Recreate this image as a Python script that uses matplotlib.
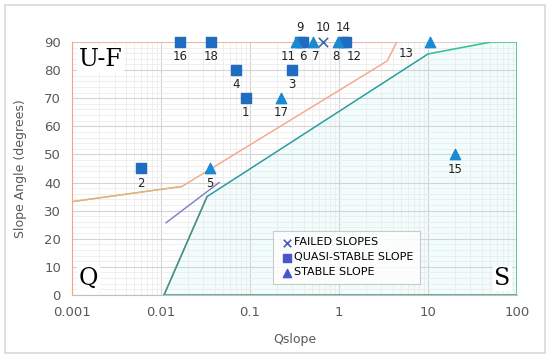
import matplotlib.pyplot as plt
from matplotlib.patches import Rectangle
from matplotlib.ticker import FixedLocator, LogLocator, NullFormatter, MultipleLocator

# data
failed_q = [0.66]
failed_a = [90]
failed_lbl = ["10"]

quasi_q = [0.089, 0.006, 0.296, 0.069, 0.39, 0.36, 1.2, 1.1, 0.0163, 0.0364]
quasi_a = [70, 45, 80, 80, 90, 90, 90, 90, 90, 90]
quasi_lbl = ["1", "2", "3", "4", "6", "9", "12", "14", "16", "18"]

stable_q = [0.0355, 0.51, 0.98, 0.33, 10.5, 20, 0.223]
stable_a = [45, 90, 90, 90, 90, 50, 70]
stable_lbl = ["5", "7", "8", "11", "13", "15", "17"]

# boundary lines
uf_q = [0.001, 0.0172, 3.47, 4.47, 0.001, 0.001]
uf_a = [33.2, 38.6, 83.2, 90, 90, 33.2]
s_low_q = [0.0108, 0.0329, 10]
s_low_a = [0, 35, 85.7]
s_top_q = [10, 52, 100, 100]
s_top_a = [85.7, 90, 90, 0]
s_base_q = [0.0108, 100]
s_base_a = [0, 0]
q_line_q = [0.0114, 0.045]
q_line_a = [25.7, 40]

fig = plt.figure(figsize=(5.5, 3.58), dpi=100)
fig.patches.append(Rectangle((0.009, 0.015), 0.982, 0.97, transform=fig.transFigure,
                             fill=False, edgecolor="#d9d9d9", linewidth=1.2))
ax = fig.add_axes([0.131, 0.176, 0.809, 0.707])

ax.set_xscale("log")
ax.set_xlim(0.001, 100)
ax.set_ylim(0, 90)

ax.fill(s_low_q + s_top_q[1:], s_low_a + s_top_a[1:], color="#f1fdfd", zorder=0.5, lw=0)

ax.plot(uf_q, uf_a, color="#f4a582", lw=1.0, zorder=2)
ax.plot(uf_q[:2], uf_a[:2], color="#d9b77a", lw=1.0, zorder=2)
ax.plot(s_low_q, s_low_a, color="#2a9d9f", lw=1.1, zorder=2)
ax.plot(s_low_q[:2], s_low_a[:2], color="#5a8f80", lw=1.0, zorder=2)
ax.plot(s_top_q, s_top_a, color="#3cc48c", lw=1.2, zorder=2)
ax.plot(s_base_q, s_base_a, color="#4f9a8a", lw=1.2, zorder=2)
ax.plot(q_line_q, q_line_a, color="#7a7ac8", lw=1.0, zorder=2)

ax.scatter(failed_q, failed_a, marker="x", s=45, color="#3a66b0", lw=1.2, zorder=4,
           clip_on=False, label="FAILED SLOPES")
ax.scatter(quasi_q, quasi_a, marker="s", s=48, color="#1f6cc0", zorder=4,
           clip_on=False, label="QUASI-STABLE SLOPE")
ax.scatter(stable_q, stable_a, marker="^", s=55, color="#1a8ad2", zorder=4,
           clip_on=False, label="STABLE SLOPE")

above = {"9", "10", "14"}
for q, a, t in zip(failed_q + quasi_q + stable_q, failed_a + quasi_a + stable_a,
                   failed_lbl + quasi_lbl + stable_lbl):
    if t in above:
        ax.annotate(t, (q, a), xytext=(0, 6), textcoords="offset points",
                    ha="center", va="bottom", fontsize=8.5, color="#222222")
    elif t == "13":
        ax.annotate(t, (q, a), xytext=(-12, -4), textcoords="offset points",
                    ha="right", va="top", fontsize=8.5, color="#222222")
    else:
        dx = {"11": -6, "6": 0, "7": 2, "8": -2, "12": 6}.get(t, 0)
        ax.annotate(t, (q, a), xytext=(dx, -6), textcoords="offset points",
                    ha="center", va="top", fontsize=8.5, color="#222222")

ax.xaxis.set_major_locator(FixedLocator([0.001, 0.01, 0.1, 1, 10, 100]))
ax.set_xticklabels(["0.001", "0.01", "0.1", "1", "10", "100"])
ax.xaxis.set_minor_locator(LogLocator(base=10, subs=range(2, 10)))
ax.xaxis.set_minor_formatter(NullFormatter())
ax.yaxis.set_major_locator(MultipleLocator(10))
ax.yaxis.set_minor_locator(MultipleLocator(2))
ax.grid(which="major", color="#d4d4d4", lw=0.8)
ax.grid(which="minor", color="#ececec", lw=0.6)
ax.set_axisbelow(True)
ax.tick_params(which="both", length=0, labelsize=9.5, labelcolor="#595959", pad=8)

for s in ["top", "right"]:
    ax.spines[s].set_visible(False)
ax.spines["left"].set_color("#f4a582")
ax.spines["bottom"].set_color("#bfbfbf")

ax.set_xlabel("Qslope", fontsize=9, color="#595959", labelpad=10)
ax.set_ylabel("Slope Angle (degrees)", fontsize=9, color="#595959", labelpad=12)

for txt, x, y in [("U-F", 0.015, 0.975), ("Q", 0.015, 0.02), ("S", 0.985, 0.02)]:
    t = ax.text(x, y, txt, transform=ax.transAxes, family="DejaVu Serif",
                fontsize=17, ha="left" if x < 0.5 else "right",
                va="top" if y > 0.5 else "bottom", zorder=3)
    t.set_bbox(dict(facecolor="white", edgecolor="none", pad=1))

leg = ax.legend(loc="lower left", bbox_to_anchor=(0.452, 0.043), fontsize=8,
                frameon=True, fancybox=False, edgecolor="#bfbfbf",
                handletextpad=0.1, borderpad=0.6, labelspacing=0.45,
                handlelength=1.2, markerscale=0.8, borderaxespad=0)
leg.get_frame().set_linewidth(0.8)
for h in leg.legend_handles:
    h.set_color("#4a55c8")

fig.savefig("out.png", dpi=100)
